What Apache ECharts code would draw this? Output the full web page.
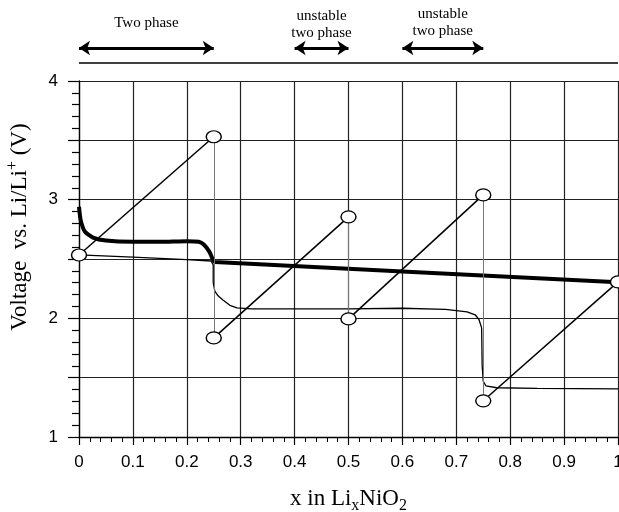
<!DOCTYPE html>
<html>
<head>
<meta charset="utf-8">
<script src="https://cdn.jsdelivr.net/npm/echarts@6/dist/echarts.min.js"></script>
<style>html,body{margin:0;padding:0;background:#fff;}</style>
</head>
<body>

<!-- chart container, same size as the figure -->
<div id="main" style="width:619px;height:512px;"></div>

<script type="text/javascript">
    // thick curve (x in LixNiO2, volts)
    var thickCurve = [
        [0, 2.94], [0.003, 2.83], [0.011, 2.73], [0.026, 2.68], [0.05, 2.655],
        [0.1, 2.645], [0.15, 2.645], [0.2, 2.65], [0.222, 2.645], [0.232, 2.62],
        [0.242, 2.56], [0.248, 2.5], [0.252, 2.475], [1, 2.305]
    ];
    // thin curve with the two steps
    var thinCurve = [
        [0, 2.535], [0.1, 2.515], [0.2, 2.495], [0.245, 2.483], [0.249, 2.45],
        [0.249, 2.3], [0.252, 2.23], [0.258, 2.19], [0.267, 2.155], [0.28, 2.11],
        [0.293, 2.088], [0.32, 2.08], [0.5, 2.08], [0.6, 2.085], [0.68, 2.075],
        [0.72, 2.055], [0.735, 2.03], [0.742, 1.99], [0.747, 1.92], [0.748, 1.6],
        [0.75, 1.47], [0.755, 1.43], [0.775, 1.415], [0.85, 1.41], [1, 1.405]
    ];
    // open ellipses, in the order the segments join them
    var circlePts = [
        [0, 2.534], [0.25, 3.53], [0.25, 1.835], [0.5, 2.855],
        [0.5, 1.995], [0.75, 3.04], [0.75, 1.305], [1, 2.307]
    ];
    // phase regions marked with arrows above the plot
    var phaseNames = ['Two phase', 'unstable\ntwo phase', 'unstable\ntwo phase'];
    var phaseRanges = [[0, 0.25], [0.4, 0.5], [0.6, 0.75]];
    var xTicks = [0, 0.1, 0.2, 0.3, 0.4, 0.5, 0.6, 0.7, 0.8, 0.9, 1];
    var yTicks = [1, 2, 3, 4];

    var arrowY = 4.278;
    var ruleY = 4.152;

    // sloped segments join point i -> i+1 for even i, the vertical drops for odd i
    var slopeSegs = [], dropSegs = [];
    for (var i = 0; i < circlePts.length - 1; i++) {
        var seg = {coords: [circlePts[i], circlePts[i + 1]]};
        if (i % 2 === 0) slopeSegs.push(seg); else dropSegs.push(seg);
    }

    var labelDist = [16, 6, 8];
    var arrowData = phaseRanges.map(function (r, k) {
        return {
            name: phaseNames[k],
            coords: [[r[0], arrowY], [r[1], arrowY]],
            label: {distance: labelDist[k]}
        };
    });

    var serif = 'Liberation Serif';
    var sans = 'Liberation Sans';

    var myChart = echarts.init(document.getElementById('main'), null, {renderer: 'canvas'});

    var option = {
        animation: false,
        backgroundColor: '#fff',
        grid: {left: 79, right: 1, top: 81, bottom: 75, containLabel: false, outerBoundsMode: 'none'},
        xAxis: {
            type: 'value', min: 0, max: 1, interval: 0.1,
            axisLine: {show: true, onZero: false, lineStyle: {color: '#000', width: 1.3}},
            axisTick: {show: true, length: 8, lineStyle: {color: '#000', width: 1.2}},
            minorTick: {show: true, splitNumber: 5, length: 5, lineStyle: {color: '#000', width: 1}},
            splitLine: {show: true, lineStyle: {color: '#222', width: 1.2}},
            axisLabel: {
                margin: 17, fontSize: 17, fontFamily: sans, color: '#000',
                formatter: function (v) {
                    var hit = xTicks.filter(function (t) { return Math.abs(t - v) < 1e-6; });
                    return hit.length ? String(hit[0]) : '';
                }
            },
            name: 'x in Li{sub|x}NiO{sub|2}',
            nameLocation: 'middle',
            nameGap: 47,
            nameTextStyle: {
                fontFamily: serif, fontSize: 23, color: '#000', lineHeight: 30,
                rich: {
                    sub: {fontFamily: serif, fontSize: 16, lineHeight: 14, verticalAlign: 'bottom', color: '#000'}
                }
            }
        },
        yAxis: {
            type: 'value', min: 1, max: 4, interval: 0.5,
            axisLine: {show: true, lineStyle: {color: '#000', width: 1.3}},
            axisTick: {show: true, length: 11, lineStyle: {color: '#000', width: 1.2}},
            minorTick: {show: true, splitNumber: 5, length: 7, lineStyle: {color: '#000', width: 1.2}},
            splitLine: {show: true, lineStyle: {color: '#222', width: 1.2}},
            axisLabel: {
                margin: 21, fontSize: 17, fontFamily: sans, color: '#000',
                formatter: function (v) {
                    return yTicks.indexOf(Math.round(v * 100) / 100) >= 0 ? String(v) : '';
                }
            },
            name: 'Voltage  vs. Li/Li{sup|+} (V)',
            nameLocation: 'middle',
            nameGap: 44,
            nameTextStyle: {
                fontFamily: serif, fontSize: 23, color: '#000', lineHeight: 30,
                padding: [0, 0, 0, 64],
                rich: {
                    sup: {fontFamily: serif, fontSize: 16, lineHeight: 14, verticalAlign: 'top', color: '#000'}
                }
            }
        },
        series: [
            {
                type: 'line', data: thinCurve, showSymbol: false, symbol: 'none', z: 3,
                lineStyle: {color: '#000', width: 1.3}
            },
            {
                type: 'line', data: thickCurve, showSymbol: false, symbol: 'none', smooth: 0.2, z: 4,
                lineStyle: {color: '#000', width: 4}
            },
            {
                type: 'lines', coordinateSystem: 'cartesian2d', data: dropSegs, z: 5,
                lineStyle: {color: '#777', width: 1, opacity: 1}
            },
            {
                type: 'lines', coordinateSystem: 'cartesian2d', data: slopeSegs, z: 6,
                lineStyle: {color: '#000', width: 1.5, opacity: 1}
            },
            {
                type: 'scatter', data: circlePts, symbol: 'circle', symbolSize: [15, 12], z: 7, clip: false,
                itemStyle: {color: '#fff', borderColor: '#000', borderWidth: 1.3, opacity: 1}
            },
            {
                type: 'lines', coordinateSystem: 'cartesian2d', clip: false, z: 8,
                symbol: ['arrow', 'arrow'], symbolSize: 11,
                data: arrowData,
                lineStyle: {color: '#000', width: 3, opacity: 1},
                label: {
                    show: true, position: 'insideMiddleTop', formatter: '{b}',
                    fontFamily: serif, fontSize: 15, lineHeight: 17, color: '#000'
                }
            },
            {
                type: 'lines', coordinateSystem: 'cartesian2d', clip: false, z: 8,
                data: [{coords: [[0, ruleY], [1, ruleY]]}],
                lineStyle: {color: '#000', width: 1.5, opacity: 1}
            }
        ]
    };

    myChart.setOption(option);
</script>

</body>
</html>
